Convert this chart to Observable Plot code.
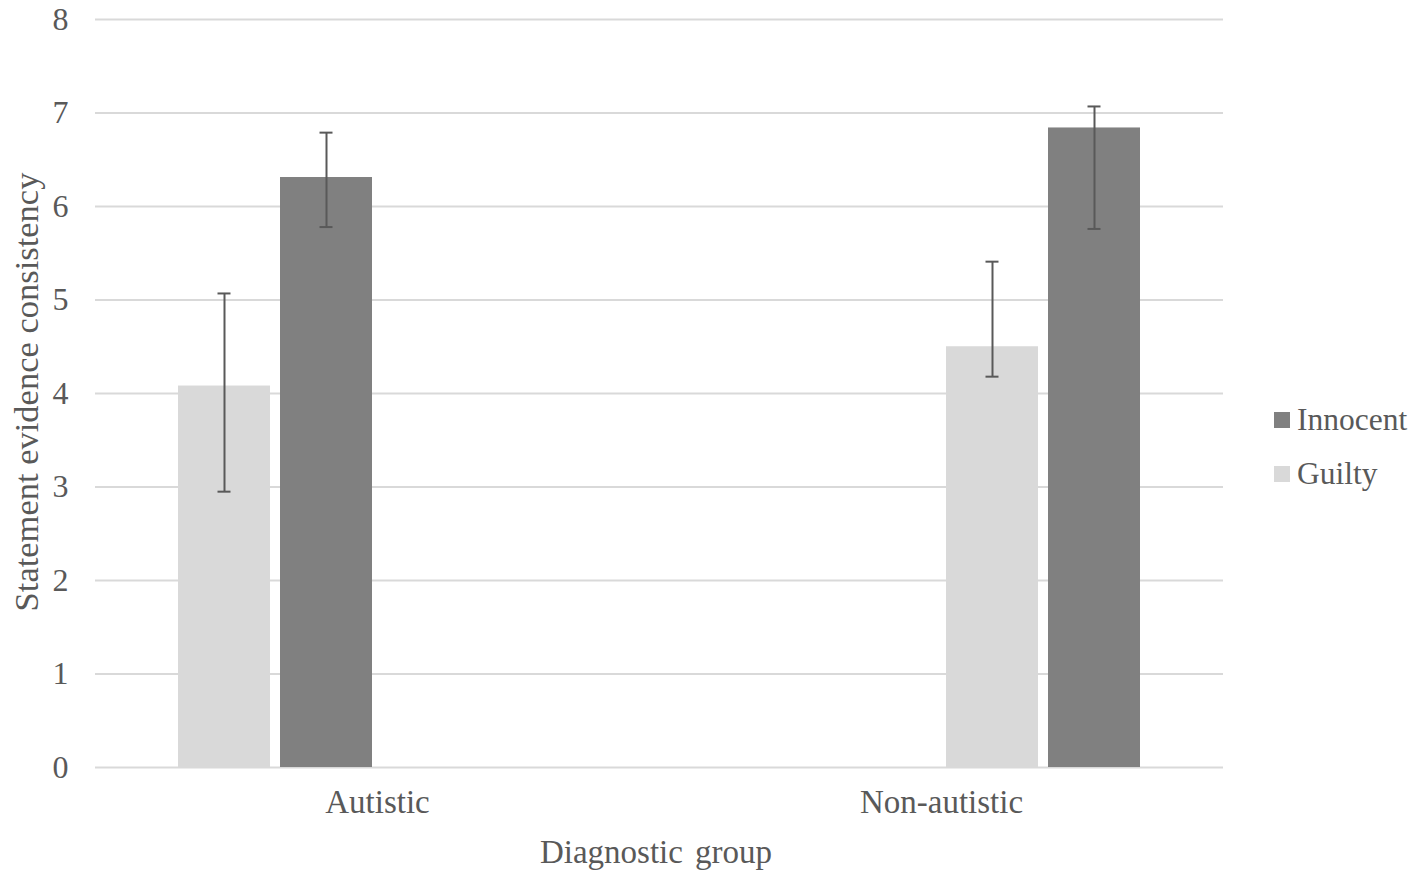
<!DOCTYPE html>
<html>
<head>
<meta charset="utf-8">
<script src="https://cdn.jsdelivr.net/npm/d3@7"></script>
<script src="https://cdn.jsdelivr.net/npm/@observablehq/plot@0.6"></script>
<style>
  html, body { margin: 0; padding: 0; background: #fff; }
  #wrap { position: relative; width: 1417px; height: 878px; font-family: "Liberation Serif", "Times New Roman", serif; color: #595959; }
  #wrap svg { position: absolute; left: 0; top: 0; }
  .ytitle { position: absolute; left: 26px; top: 392px; font-size: 34.5px; line-height: 34px; white-space: nowrap; transform: translate(-50%, -50%) rotate(-90deg); }
  .xtitle { position: absolute; left: 656px; top: 862px; font-size: 33px; line-height: 33px; white-space: nowrap; transform: translate(-50%, -80%); word-spacing: 4px; }
  .legend { position: absolute; left: 1274px; font-size: 31.5px; line-height: 32px; white-space: nowrap; display: flex; align-items: center; }
  .legend span.sw { display: inline-block; width: 16px; height: 16px; margin-right: 7px; }
</style>
</head>
<body>
<div id="wrap"></div>
<script>
// ---- data ----
const groups = ["Autistic", "Non-autistic"];
const seriesNames = ["Guilty", "Innocent"];
const guiltyMean = [4.08, 4.50];
const guiltyLow = [2.95, 4.18];
const guiltyHigh = [5.07, 5.41];
const innocentMean = [6.31, 6.84];
const innocentLow = [5.78, 5.76];
const innocentHigh = [6.79, 7.07];
const yTicks = [0, 1, 2, 3, 4, 5, 6, 7, 8];
const seriesColors = ["#D9D9D9", "#808080"];

const rows = [];
groups.forEach((g, gi) => {
  rows.push({group: g, series: "Guilty", slot: gi * 2, value: guiltyMean[gi], lo: guiltyLow[gi], hi: guiltyHigh[gi]});
  rows.push({group: g, series: "Innocent", slot: gi * 2 + 1, value: innocentMean[gi], lo: innocentLow[gi], hi: innocentHigh[gi]});
});

const chart = Plot.plot({
  width: 1417,
  height: 878,
  marginLeft: 94,
  marginRight: 194,
  marginTop: 19,
  marginBottom: 111,
  style: { fontFamily: "Liberation Serif, Times New Roman, serif", fontSize: "31.5px", color: "#595959", background: "transparent" },
  fx: { domain: groups, padding: 0, label: null },
  x: { type: "band", domain: [0, 1, 2, 3], paddingInner: 0.094, paddingOuter: 0.79, axis: null },
  y: { domain: [0, 8], ticks: yTicks, label: null },
  color: { domain: seriesNames, range: seriesColors },
  marks: [
    Plot.gridY(yTicks, { stroke: "#D9D9D9", strokeOpacity: 1, strokeWidth: 2 }),
    Plot.axisY(yTicks, { tickSize: 0, tickPadding: 27, label: null, tickFormat: d => String(d), fill: "#595959", fontSize: 32 }),
    Plot.axisFx({ anchor: "bottom", tickSize: 0, tickPadding: 22, label: null, fill: "#595959", fontSize: 33 }),
    Plot.barY(rows, { fx: "group", x: "slot", y: "value", fill: "series" }),
    Plot.ruleX(rows, { fx: "group", x: "slot", y1: "lo", y2: "hi", stroke: "#595959", strokeWidth: 2 }),
    Plot.tickY(rows, { fx: "group", x: "slot", y: "lo", stroke: "#595959", strokeWidth: 2, insetLeft: 39.5, insetRight: 39.5 }),
    Plot.tickY(rows, { fx: "group", x: "slot", y: "hi", stroke: "#595959", strokeWidth: 2, insetLeft: 39.5, insetRight: 39.5 })
  ]
});

const wrap = document.getElementById("wrap");
wrap.appendChild(chart);

const yt = document.createElement("div");
yt.className = "ytitle";
yt.textContent = "Statement evidence consistency";
wrap.appendChild(yt);

const xt = document.createElement("div");
xt.className = "xtitle";
xt.textContent = "Diagnostic group";
wrap.appendChild(xt);

// legend (Innocent above Guilty)
const legendItems = [["Innocent", seriesColors[1], 404], ["Guilty", seriesColors[0], 458]];
legendItems.forEach(([name, col, top]) => {
  const d = document.createElement("div");
  d.className = "legend";
  d.style.top = top + "px";
  d.innerHTML = `<span class="sw" style="background:${col}"></span><span>${name}</span>`;
  wrap.appendChild(d);
});
</script>
</body>
</html>
